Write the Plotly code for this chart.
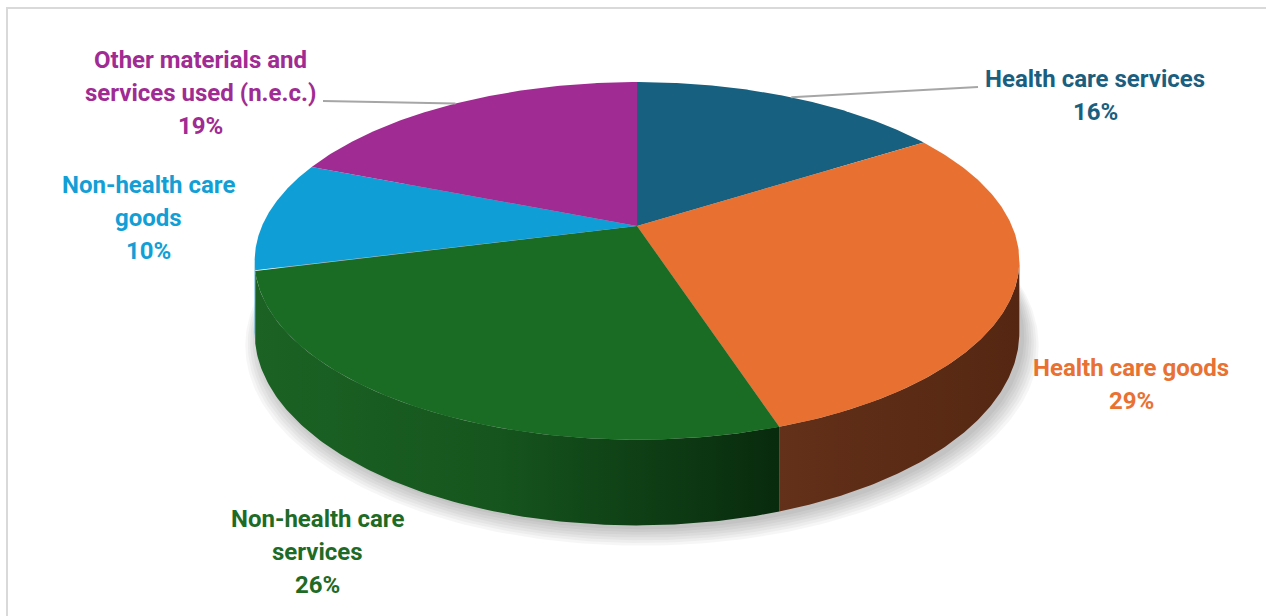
import numpy as np
import plotly.graph_objects as go

# ---- data -------------------------------------------------------------
categories = [
    "Health care services",
    "Health care goods",
    "Non-health care services",
    "Non-health care goods",
    "Other materials and services used (n.e.c.)",
]
shares = [16, 29, 26, 10, 19]

# wrapped label text for each category
label_lines = [
    ["Health care services"],
    ["Health care goods"],
    ["Non-health care", "services"],
    ["Non-health care", "goods"],
    ["Other materials and", "services used (n.e.c.)"],
]

# ---- styling ----------------------------------------------------------
top_colors = ["#176080", "#E87132", "#1A6B24", "#0F9ED5", "#A02B93"]
side_scales = [
    [[0, "#0f4560"], [1, "#0b3448"]],
    [[0, "#633019"], [1, "#552712"]],
    [[0, "#1b6224"], [0.45, "#16561e"], [1, "#082a0d"]],
    [[0, "#0d8ec2"], [1, "#0b7aa6"]],
    [[0, "#7a1f70"], [1, "#661a5e"]],
]
label_colors = ["#1B5F80", "#E97132", "#1E6B26", "#139FD6", "#A02B93"]
# centre of each label block (pixels) and the outer end of its leader line
label_pos = [(1095, 95), (1131, 384), (317, 552), (148, 218), (200, 93)]
leader_end = [(978, 87), None, None, None, (323, 101)]
LINE_GAP = 33
FONT = "Roboto"
FONT_SIZE = 24

W, H_PX = 1266, 616

# ---- perspective disc geometry -----------------------------------------
CX, CY = 637, 226      # pie centre on screen
A, B = 375, 172        # horizontal / vertical radii of the top face
K = 0.195              # perspective strength
DEPTH = 69             # thickness of the pie


def proj(theta_deg, r=1.0, drop=0.0):
    t = np.radians(theta_deg)
    X, Z = r * np.sin(t), r * np.cos(t)
    s = 1.0 / (1.0 + K * Z)
    return CX + A * X * s, CY - B * Z * s + drop * s


total = float(sum(shares))
bounds = np.concatenate([[0], np.cumsum(shares)]) / total * 360.0

fig = go.Figure()

# soft shadow under the pie
t_all = np.linspace(0, 360, 361)
for i in range(7):
    grow = 1.0 + 0.006 * i
    sx, sy = proj(t_all, r=grow, drop=DEPTH)
    fig.add_trace(go.Scatter(
        x=sx + 5, y=sy + 4 + i, mode="lines", fill="toself",
        fillcolor="rgba(0,0,0,0.035)", line=dict(width=0),
        hoverinfo="skip", showlegend=False))

# visible part of the side wall runs between the two silhouette angles
th_r = np.degrees(np.arccos(-K))
th_l = 360.0 - th_r

for i in range(len(shares)):
    a0, a1 = max(bounds[i], th_r), min(bounds[i + 1], th_l)
    if a1 <= a0:
        continue
    tt = np.linspace(a0, a1, 120)
    xt, yt = proj(tt)
    xb, yb = proj(tt[::-1], drop=DEPTH)
    fig.add_trace(go.Scatter(
        x=np.concatenate([xt, xb]), y=np.concatenate([yt, yb]),
        mode="lines", fill="toself", line=dict(width=0),
        fillgradient=dict(type="horizontal", colorscale=side_scales[i]),
        hoverinfo="skip", showlegend=False))

# top faces
for i in range(len(shares)):
    tt = np.linspace(bounds[i], bounds[i + 1], 160)
    xt, yt = proj(tt)
    fig.add_trace(go.Scatter(
        x=np.concatenate([[CX], xt, [CX]]), y=np.concatenate([[CY], yt, [CY]]),
        mode="lines", fill="toself", fillcolor=top_colors[i],
        line=dict(width=0, color=top_colors[i]),
        name=categories[i], hoverinfo="name", showlegend=False))

# leader lines
for i in range(len(shares)):
    if leader_end[i] is None:
        continue
    mid = (bounds[i] + bounds[i + 1]) / 2
    px, py = proj(mid)
    fig.add_trace(go.Scatter(
        x=[px, leader_end[i][0]], y=[py, leader_end[i][1]], mode="lines",
        line=dict(color="#a6a6a6", width=2), hoverinfo="skip", showlegend=False))

# labels
annotations = []
for i in range(len(shares)):
    lines = label_lines[i] + [f"{shares[i]}%"]
    cx, cy = label_pos[i]
    y0 = cy - LINE_GAP * (len(lines) - 1) / 2
    for j, txt in enumerate(lines):
        annotations.append(dict(
            x=cx, y=y0 + j * LINE_GAP, xref="x", yref="y", text=f"<b>{txt}</b>",
            showarrow=False, xanchor="center", yanchor="middle",
            font=dict(family=FONT, size=FONT_SIZE, color=label_colors[i])))

fig.update_layout(
    width=W, height=H_PX, margin=dict(l=0, r=0, t=0, b=0),
    paper_bgcolor="white", plot_bgcolor="white",
    xaxis=dict(range=[0, W], visible=False, fixedrange=True),
    yaxis=dict(range=[H_PX, 0], visible=False, fixedrange=True),
    annotations=annotations,
    shapes=[dict(type="rect", xref="x", yref="y", x0=7, y0=8, x1=W + 4, y1=H_PX + 4,
                 line=dict(color="#d9d9d9", width=2), layer="above")],
)

fig.write_html("out.html")
